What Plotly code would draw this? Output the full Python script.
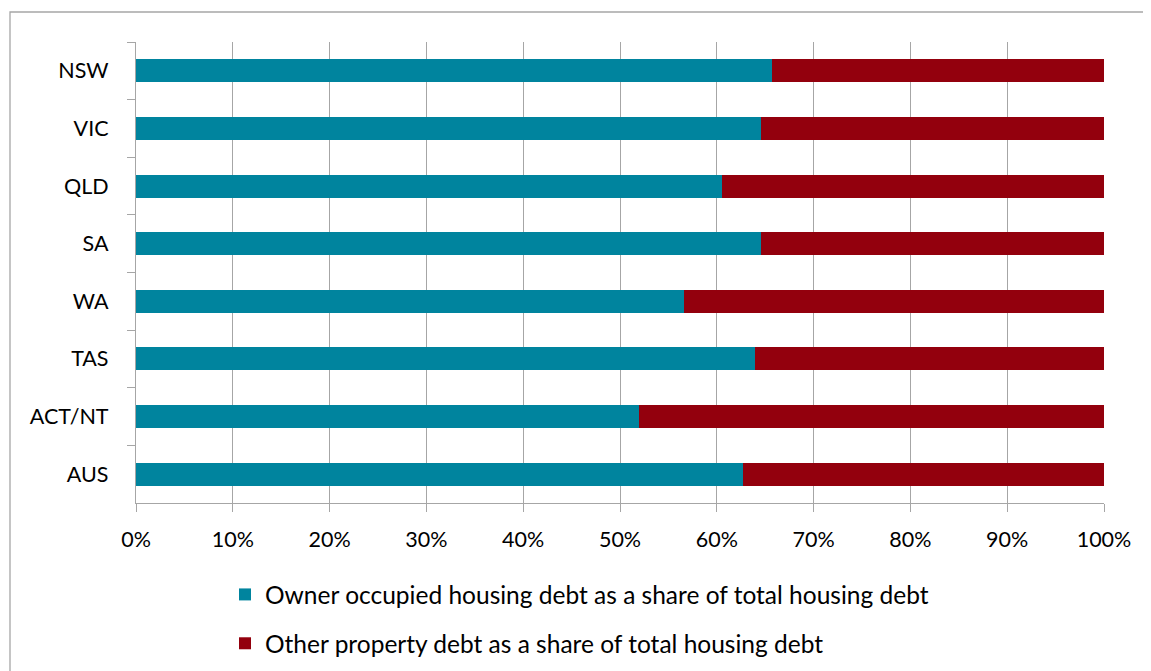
import plotly.graph_objects as go

states = ["NSW", "VIC", "QLD", "SA", "WA", "TAS", "ACT/NT", "AUS"]
owner_occupied = [65.7, 64.6, 60.5, 64.6, 56.6, 63.9, 52.0, 62.7]
other_property = [round(100 - v, 1) for v in owner_occupied]
x_ticks = [0, 10, 20, 30, 40, 50, 60, 70, 80, 90, 100]
x_tick_labels = [f"{t}%" for t in x_ticks]

FONT = "Lato"
OFF = 8  # page body margin
W, H = 1151 - OFF, 671 - OFF
L, T = 136 - OFF, 42 - OFF
R = W - (1104 - OFF)
B = H - (503 - OFF)
pw, ph = W - L - R, H - T - B


def px_x(p):
    return (p - OFF - L) / pw


def px_y(p):
    return (H - B - (p - OFF)) / ph


fig = go.Figure()
fig.add_trace(go.Bar(
    y=states, x=owner_occupied, orientation="h",
    name="Owner occupied housing debt as a share of total housing debt",
    marker=dict(color="#00849E", line=dict(width=0)),
    width=0.4, legendgroup="a",
))
fig.add_trace(go.Bar(
    y=states, x=other_property, orientation="h",
    name="Other property debt as a share of total housing debt",
    marker=dict(color="#93000D", line=dict(width=0)),
    width=0.4, legendgroup="b",
))

fig.update_layout(
    width=W, height=H,
    barmode="stack",
    margin=dict(l=L, r=R, t=T, b=B, autoexpand=False),
    paper_bgcolor="white", plot_bgcolor="white",
    font=dict(family=FONT, size=21, color="#000000"),
    showlegend=True,
    legend=dict(
        x=px_x(225), y=px_y(572), xanchor="left", yanchor="top",
        orientation="v", traceorder="grouped", tracegroupgap=14,
        font=dict(family=FONT, size=24.5, color="#000000"),
        bgcolor="rgba(0,0,0,0)",
    ),
    xaxis=dict(
        range=[0, 100], tickvals=x_ticks, ticktext=x_tick_labels,
        showgrid=True, gridcolor="#A6A6A6", gridwidth=1.3,
        showline=True, linecolor="#A6A6A6", linewidth=1.3,
        ticks="outside", ticklen=8, tickcolor="#A6A6A6", tickwidth=1.3,
        zeroline=False, fixedrange=True,
        tickfont=dict(family=FONT, size=21.5, color="#000000"),
        ticklabelstandoff=9,
    ),
    yaxis=dict(
        categoryorder="array", categoryarray=states, autorange="reversed",
        showgrid=False, showline=True, linecolor="#A6A6A6", linewidth=1.3,
        ticks="outside", ticklen=8, tickcolor="#A6A6A6", tickwidth=1.3,
        tickson="boundaries", zeroline=False, fixedrange=True,
        tickfont=dict(family=FONT, size=21.5, color="#000000"),
        ticklabelstandoff=22,
    ),
    shapes=[dict(
        type="rect", xref="paper", yref="paper",
        x0=px_x(10), x1=px_x(1200), y0=px_y(720), y1=px_y(12),
        line=dict(color="#A6A6A6", width=1.3), fillcolor="rgba(0,0,0,0)",
        layer="below",
    )],
)

fig.write_html("out.html")
